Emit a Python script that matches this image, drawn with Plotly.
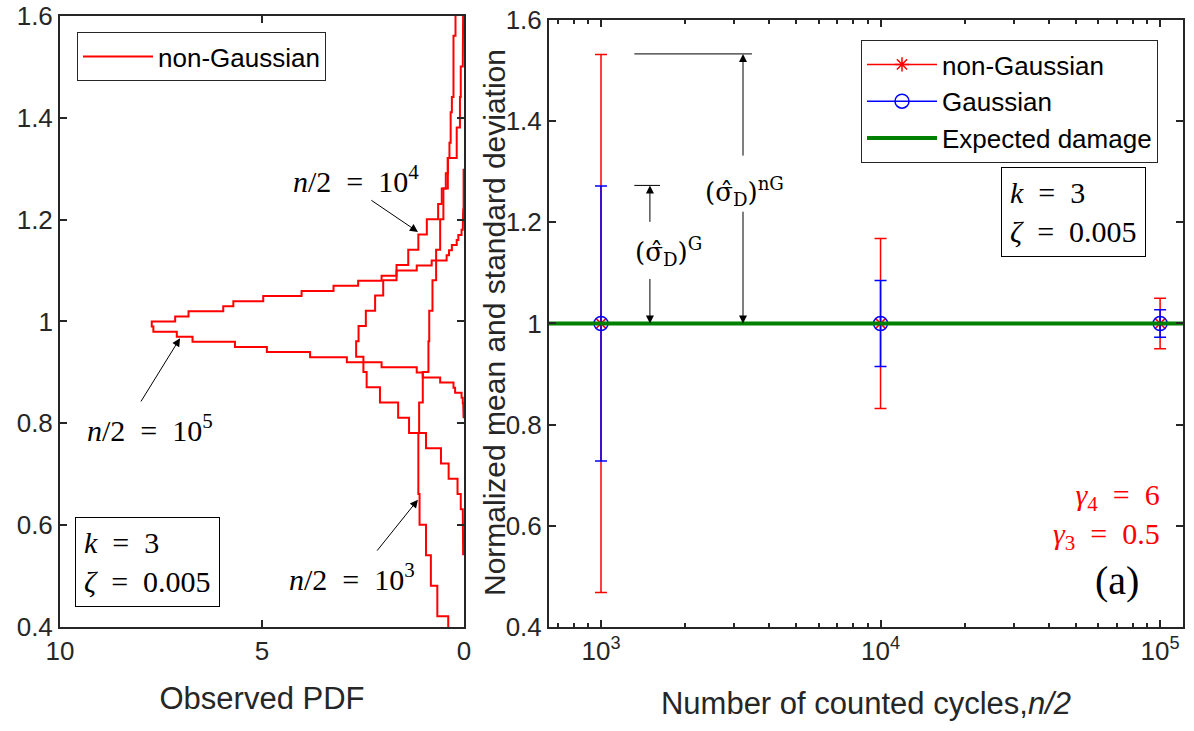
import plotly.graph_objects as go

# ---------------- Left panel: observed PDF histograms (stairs) ----------------
# bin lower edges start, bin width, PDF values per bin
h5_start, h5_width = 0.81, 0.01
h5_pdf = [0.01, 0.01, 0.02, 0.03, 0.06, 0.22, 0.26, 0.59, 1.02, 1.17,
          2.04, 2.90, 3.81, 4.88, 5.67, 6.72, 7.11, 7.69, 7.73, 7.15,
          6.82, 5.96, 5.71, 4.97, 4.02, 3.23, 2.62, 2.04, 1.67, 1.17,
          0.80, 0.43, 0.37, 0.30, 0.18, 0.14, 0.06, 0.03, 0.02, 0.02,
          0.02, 0.01, 0.01, 0.01, 0.01, 0.01, 0.01, 0.01, 0.01]

h4_start, h4_width = 0.541, 0.03
h4_pdf = [0.02, 0.02, 0.03, 0.08, 0.16, 0.38, 0.57, 0.94, 1.36, 1.63,
          2.08, 2.41, 2.49, 2.67, 2.61, 2.43, 2.20, 2.00, 1.67, 1.38,
          1.13, 0.92, 0.64, 0.55, 0.45, 0.40, 0.36, 0.33, 0.33, 0.30,
          0.26, 0.26, 0.26, 0.26, 0.21, 0.21]

h3_start, h3_width = 0.361, 0.06
h3_pdf = [0.39, 0.66, 0.82, 0.94, 1.10, 1.13, 1.13, 1.11, 1.02, 0.88,
          0.86, 0.78, 0.69, 0.59, 0.51, 0.40, 0.18, 0.10, 0.08, 0.03, 0.02]

# ---------------- Right panel: normalized mean and std ----------------
cycles = [1e3, 1e4, 1e5]
mean_nG = [1.0, 1.0, 1.0]
std_nG = [0.532, 0.168, 0.050]
mean_G = [1.0, 1.0, 1.0]
std_G = [0.272, 0.085, 0.027]
expected_damage = 1.0

x_ticks = [1e3, 1e4, 1e5]
x_ticktext = ["10<sup>3</sup>", "10<sup>4</sup>", "10<sup>5</sup>"]
y_ticks = [0.4, 0.6, 0.8, 1.0, 1.2, 1.4, 1.6]

AX_COLOR = "#262626"
TICK_FONT = dict(family="Liberation Sans, Arial", size=26, color=AX_COLOR)
TITLE_FONT = dict(family="Liberation Sans, Arial", size=31, color=AX_COLOR)
MATH = "Liberation Serif, Times New Roman, serif"
SP = "&nbsp;&nbsp;"


def stairs(start, width, vals):
    xs, ys = [], []
    for i, v in enumerate(vals):
        lo = round(start + i * width, 4)
        hi = round(start + (i + 1) * width, 4)
        xs += [v, v]
        ys += [lo, hi]
    return xs, ys


fig = go.Figure()
for k, (s, w, vals) in enumerate([(h3_start, h3_width, h3_pdf),
                                   (h4_start, h4_width, h4_pdf),
                                   (h5_start, h5_width, h5_pdf)]):
    xs, ys = stairs(s, w, vals)
    fig.add_trace(go.Scatter(x=xs, y=ys, mode="lines", line=dict(color="red", width=2),
                             name="non-Gaussian", showlegend=(k == 0), legend="legend",
                             xaxis="x", yaxis="y", cliponaxis=True))

fig.add_trace(go.Scatter(x=cycles, y=mean_nG, mode="lines+markers", name="non-Gaussian",
                         line=dict(color="red", width=1.5),
                         marker=dict(symbol="asterisk-open", size=12, color="red",
                                     line=dict(color="red", width=1.5)),
                         error_y=dict(type="data", array=std_nG, color="red", thickness=1.5, width=6),
                         xaxis="x2", yaxis="y2", legend="legend2"))
fig.add_trace(go.Scatter(x=cycles, y=mean_G, mode="lines+markers", name="Gaussian",
                         line=dict(color="blue", width=1.5),
                         marker=dict(symbol="circle-open", size=14, color="blue",
                                     line=dict(color="blue", width=1.5)),
                         error_y=dict(type="data", array=std_G, color="blue", thickness=1.5, width=6),
                         xaxis="x2", yaxis="y2", legend="legend2"))
x2_range = [2.814, 5.082]
fig.add_trace(go.Scatter(x=[10 ** x2_range[0], 10 ** x2_range[1]],
                         y=[expected_damage, expected_damage], mode="lines",
                         name="Expected damage", line=dict(color="rgb(0,128,0)", width=4),
                         xaxis="x2", yaxis="y2", legend="legend2"))

axis_common = dict(showline=True, linecolor=AX_COLOR, linewidth=2, mirror="ticks",
                   ticks="inside", ticklen=7, tickwidth=1.5, tickcolor=AX_COLOR,
                   showgrid=False, zeroline=False, tickfont=TICK_FONT, automargin=False,
                   ticklabeloverflow="allow")

minor_vals = [m * 10 ** e for e in (2, 3, 4) for m in range(2, 10)]

fig.update_layout(
    width=1194, height=731, margin=dict(l=0, r=0, t=0, b=0, autoexpand=False),
    paper_bgcolor="white", plot_bgcolor="white",
    xaxis=dict(domain=[0.0503, 0.3886], range=[10, 0], tickvals=[10, 5, 0], anchor="y",
               title=dict(text="Observed PDF", font=TITLE_FONT, standoff=22), **axis_common),
    yaxis=dict(domain=[0.1423, 0.9781], range=[0.4, 1.6], tickvals=y_ticks, anchor="x",
               **axis_common),
    xaxis2=dict(domain=[0.4598, 0.9908], type="log", range=x2_range, anchor="y2",
                tickvals=x_ticks, ticktext=x_ticktext,
                minor=dict(tickvals=minor_vals, ticks="inside", ticklen=4, tickcolor=AX_COLOR),
                title=dict(text="Number of counted cycles,<i>n/2</i>", font=TITLE_FONT, standoff=27),
                **axis_common),
    yaxis2=dict(domain=[0.1423, 0.9726], range=[0.4, 1.6], tickvals=y_ticks, anchor="x2",
                **axis_common),
    legend=dict(x=77 / 1194, y=1 - 32 / 731, xanchor="left", yanchor="top",
                bgcolor="white", bordercolor=AX_COLOR, borderwidth=1, itemwidth=70,
                font=dict(family="Liberation Sans, Arial", size=26, color="black")),
    legend2=dict(x=861 / 1194, y=1 - 40 / 731, xanchor="left", yanchor="top",
                 bgcolor="white", bordercolor=AX_COLOR, borderwidth=1, itemwidth=70,
                 font=dict(family="Liberation Sans, Arial", size=26, color="black")),
)

ann = []
mf = dict(family=MATH, size=30, color="black")
eq = SP + "=" + SP
# Left panel labels and arrows
ann += [
    dict(x=2.67, y=1.28, xref="x", yref="y", text="<i>n</i>/2" + eq + "10<sup>4</sup>", showarrow=False, font=mf),
    dict(x=1.14, y=1.176, ax=2.33, ay=1.240, xref="x", yref="y", axref="x", ayref="y", text="",
         showarrow=True, arrowhead=2, arrowsize=1.6, arrowwidth=1, arrowcolor="black"),
    dict(x=7.77, y=0.791, xref="x", yref="y", text="<i>n</i>/2" + eq + "10<sup>5</sup>", showarrow=False, font=mf),
    dict(x=7.03, y=0.967, ax=8.02, ay=0.840, xref="x", yref="y", axref="x", ayref="y", text="",
         showarrow=True, arrowhead=2, arrowsize=1.6, arrowwidth=1, arrowcolor="black"),
    dict(x=2.77, y=0.498, xref="x", yref="y", text="<i>n</i>/2" + eq + "10<sup>3</sup>", showarrow=False, font=mf),
    dict(x=1.14, y=0.650, ax=2.18, ay=0.547, xref="x", yref="y", axref="x", ayref="y", text="",
         showarrow=True, arrowhead=2, arrowsize=1.6, arrowwidth=1, arrowcolor="black"),
    dict(x=75 / 1194, y=1 - 517 / 731, xref="paper", yref="paper", xanchor="left", yanchor="top",
         text="<i>k</i>" + eq + "3<br><i>ζ</i>" + eq + "0.005", align="left", showarrow=False, font=mf,
         bordercolor="black", borderwidth=1, borderpad=8, bgcolor="white"),
    dict(x=1001 / 1194, y=1 - 167 / 731, xref="paper", yref="paper", xanchor="left", yanchor="top",
         text="<i>k</i>" + eq + "3<br><i>ζ</i>" + eq + "0.005", align="left", showarrow=False, font=mf,
         bordercolor="black", borderwidth=1, borderpad=8, bgcolor="white"),
    dict(x=1162 / 1194, y=1 - 516 / 731, xref="paper", yref="paper", xanchor="right", yanchor="middle",
         text="<i>γ</i><sub>4</sub>" + eq + "6<br><i>γ</i><sub>3</sub>" + eq + "0.5", align="right",
         showarrow=False, font=dict(family=MATH, size=30, color="red")),
    dict(x=1117 / 1194, y=1 - 580 / 731, xref="paper", yref="paper", xanchor="center", yanchor="middle",
         text="(a)", showarrow=False, font=dict(family=MATH, size=40, color="black")),
    dict(x=494 / 1194, y=1 - 323 / 731, xref="paper", yref="paper", xanchor="center", yanchor="middle",
         text="Normalized mean and standard deviation", textangle=-90, showarrow=False,
         font=dict(family="Liberation Sans, Arial", size=30, color=AX_COLOR)),
]
# Right panel sigma annotations (log10 x units)
lw = dict(xref="x2", yref="y2", axref="x2", ayref="y2", text="", showarrow=True,
          arrowwidth=1, arrowcolor="black")
sig = dict(family="DejaVu Serif, serif", size=26, color="black")
ann += [
    dict(x=3.211, y=1.273, ax=3.114, ay=1.273, arrowhead=0, **lw),
    dict(x=3.540, y=1.533, ax=3.114, ay=1.533, arrowhead=0, **lw),
    dict(x=3.175, y=1.273, ax=3.175, ay=1.198, arrowhead=2, arrowsize=1.6, **lw),
    dict(x=3.175, y=1.0, ax=3.175, ay=1.091, arrowhead=2, arrowsize=1.6, **lw),
    dict(x=3.508, y=1.533, ax=3.508, ay=1.329, arrowhead=2, arrowsize=1.6, **lw),
    dict(x=3.508, y=1.0, ax=3.508, ay=1.224, arrowhead=2, arrowsize=1.6, **lw),
    dict(x=3.24, y=1.143, xref="x2", yref="y2", showarrow=False, font=sig,
         text="(σ\u0302<sub>D</sub>)<sup>G</sup>"),
    dict(x=3.515, y=1.261, xref="x2", yref="y2", showarrow=False, font=sig,
         text="(σ\u0302<sub>D</sub>)<sup>nG</sup>"),
]
fig.update_layout(annotations=ann)

fig.write_html("out.html")
